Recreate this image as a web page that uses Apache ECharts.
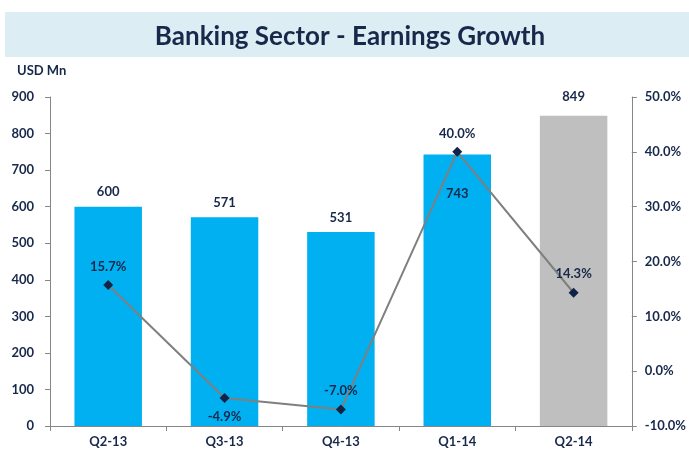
<!DOCTYPE html>
<html>
<head>
<meta charset="utf-8">
<script src="https://cdn.jsdelivr.net/npm/echarts@6/dist/echarts.min.js"></script>
<style>html,body{margin:0;padding:0;background:#fff}#c{width:689px;height:452px}</style>
</head>
<body>
<div id="c"></div>
<script>
const categories = ['Q2-13', 'Q3-13', 'Q4-13', 'Q1-14', 'Q2-14'];
const earnings = [600, 571, 531, 743, 849];
const growth = [15.7, -4.9, -7.0, 40.0, 14.3];
const growthLabelPos = ['top', 'bottom', 'top', 'top', 'top'];
const barColors = ['#00B0F0', '#00B0F0', '#00B0F0', '#00B0F0', '#BFBFBF'];
const barLabelPos = ['top', 'top', 'top', 'insideTop', 'top'];
const barLabelDist = [8, 8, 8, 33, 12];

const FONT = 'Lato, "Open Sans", sans-serif';
const TXT = '#17284a';
const AX = '#868686';

const chart = echarts.init(document.getElementById('c'));
chart.setOption({
  animation: false,
  textStyle: { fontFamily: FONT },
  graphic: [
    { type: 'rect', shape: { x: 5, y: 12, width: 684, height: 45 }, style: { fill: '#DCEEF4' }, z: 0 },
    { type: 'text', x: 350, y: 37, style: { text: 'Banking Sector - Earnings Growth', font: 'bold 26px ' + FONT, fill: TXT, align: 'center', verticalAlign: 'middle' } },
    { type: 'text', x: 17, y: 71, style: { text: 'USD Mn', font: 'bold 13px ' + FONT, fill: TXT, align: 'left', verticalAlign: 'middle' } }
  ],
  grid: { left: 50, right: 56, top: 97, bottom: 26 },
  xAxis: {
    type: 'category', data: categories,
    axisLine: { lineStyle: { color: AX, width: 1 } },
    axisTick: { show: true, length: 5, lineStyle: { color: AX } },
    axisLabel: { color: TXT, fontWeight: 'bold', fontSize: 13, margin: 9 }
  },
  yAxis: [
    {
      type: 'value', min: 0, max: 900, interval: 100,
      splitLine: { show: false },
      axisLine: { show: true, lineStyle: { color: AX } },
      axisTick: { show: true, length: 5, lineStyle: { color: AX } },
      axisLabel: { color: TXT, fontWeight: 'bold', fontSize: 13, margin: 16 }
    },
    {
      type: 'value', min: -10, max: 50, interval: 10, position: 'right',
      splitLine: { show: false },
      axisLine: { show: true, lineStyle: { color: AX } },
      axisTick: { show: true, length: 5, lineStyle: { color: AX } },
      axisLabel: { color: TXT, fontWeight: 'bold', fontSize: 13, margin: 13, formatter: v => v.toFixed(1) + '%' }
    }
  ],
  series: [
    {
      type: 'bar', yAxisIndex: 0, barWidth: '58%',
      data: earnings.map((v, i) => ({
        value: v,
        itemStyle: { color: barColors[i] },
        label: { show: true, position: barLabelPos[i], distance: barLabelDist[i], color: TXT, fontWeight: 'bold', fontSize: 13 }
      })),
      label: { show: true, color: TXT, fontWeight: 'bold', fontSize: 13 }
    },
    {
      type: 'line', yAxisIndex: 1,
      data: growth.map((v, i) => ({ value: v, label: { show: true, position: growthLabelPos[i], color: TXT, fontWeight: 'bold', fontSize: 13 } })),
      lineStyle: { color: '#7F7F7F', width: 2 },
      symbol: 'diamond', symbolSize: 10,
      itemStyle: { color: '#102447' },
      label: { show: true, color: TXT, fontSize: 13, fontWeight: 'bold', distance: 7, formatter: p => p.value.toFixed(1) + '%' },
      z: 5
    }
  ]
});
</script>
</body>
</html>
